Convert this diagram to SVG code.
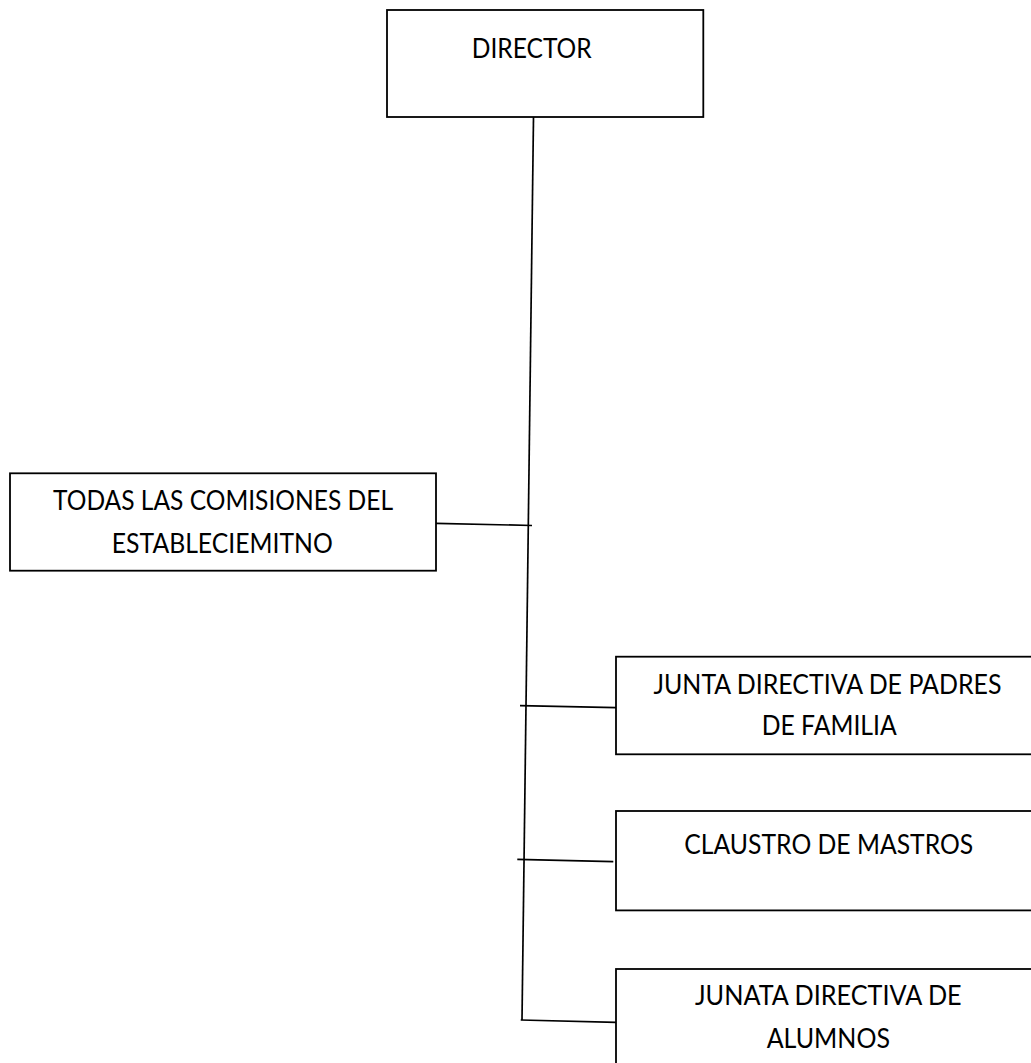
<svg xmlns="http://www.w3.org/2000/svg" width="1031" height="1063" viewBox="0 0 1031 1063">
<style>
.box{fill:#fff;stroke:#000;stroke-width:1.8}
.lbl{font-family:Lato,"Open Sans","Liberation Sans",sans-serif;font-size:26px;fill:#000;text-anchor:middle}
.con{stroke:#000;stroke-width:1.7;fill:none}
</style>
<rect width="1031" height="1063" fill="#fff"/>
<g id="connectors">
<line class="con" x1="533.5" y1="117" x2="522" y2="1020"/>
<line class="con" x1="436" y1="523.3" x2="532" y2="525.5"/>
<line class="con" x1="520" y1="705.7" x2="616" y2="707.7"/>
<line class="con" x1="517.3" y1="859.3" x2="613.3" y2="861.7"/>
<line class="con" x1="520.7" y1="1020" x2="616" y2="1022.3"/>
</g>
<g id="director">
<rect class="box" x="387" y="10" width="316.3" height="107"/>
<text class="lbl" x="531.7" y="58.3" textLength="120" lengthAdjust="spacingAndGlyphs">DIRECTOR</text>
</g>
<g id="comisiones">
<rect class="box" x="10" y="473.3" width="426" height="97.4"/>
<text class="lbl" x="223" y="510" textLength="340" lengthAdjust="spacingAndGlyphs">TODAS LAS COMISIONES DEL</text>
<text class="lbl" x="222.3" y="552.7" textLength="221" lengthAdjust="spacingAndGlyphs">ESTABLECIEMITNO</text>
</g>
<g id="padres">
<rect class="box" x="616" y="656.7" width="426" height="97.6"/>
<text class="lbl" x="827.5" y="694.3" textLength="348" lengthAdjust="spacingAndGlyphs">JUNTA DIRECTIVA DE PADRES</text>
<text class="lbl" x="829.2" y="735" textLength="135" lengthAdjust="spacingAndGlyphs">DE FAMILIA</text>
</g>
<g id="claustro">
<rect class="box" x="616" y="811" width="426" height="99.4"/>
<text class="lbl" x="828.8" y="854.3" textLength="289" lengthAdjust="spacingAndGlyphs">CLAUSTRO DE MASTROS</text>
</g>
<g id="alumnos">
<rect class="box" x="616" y="969" width="426" height="110"/>
<text class="lbl" x="828.3" y="1005" textLength="266.7" lengthAdjust="spacingAndGlyphs">JUNATA DIRECTIVA DE</text>
<text class="lbl" x="828.3" y="1048.3" textLength="123.3" lengthAdjust="spacingAndGlyphs">ALUMNOS</text>
</g>
</svg>
